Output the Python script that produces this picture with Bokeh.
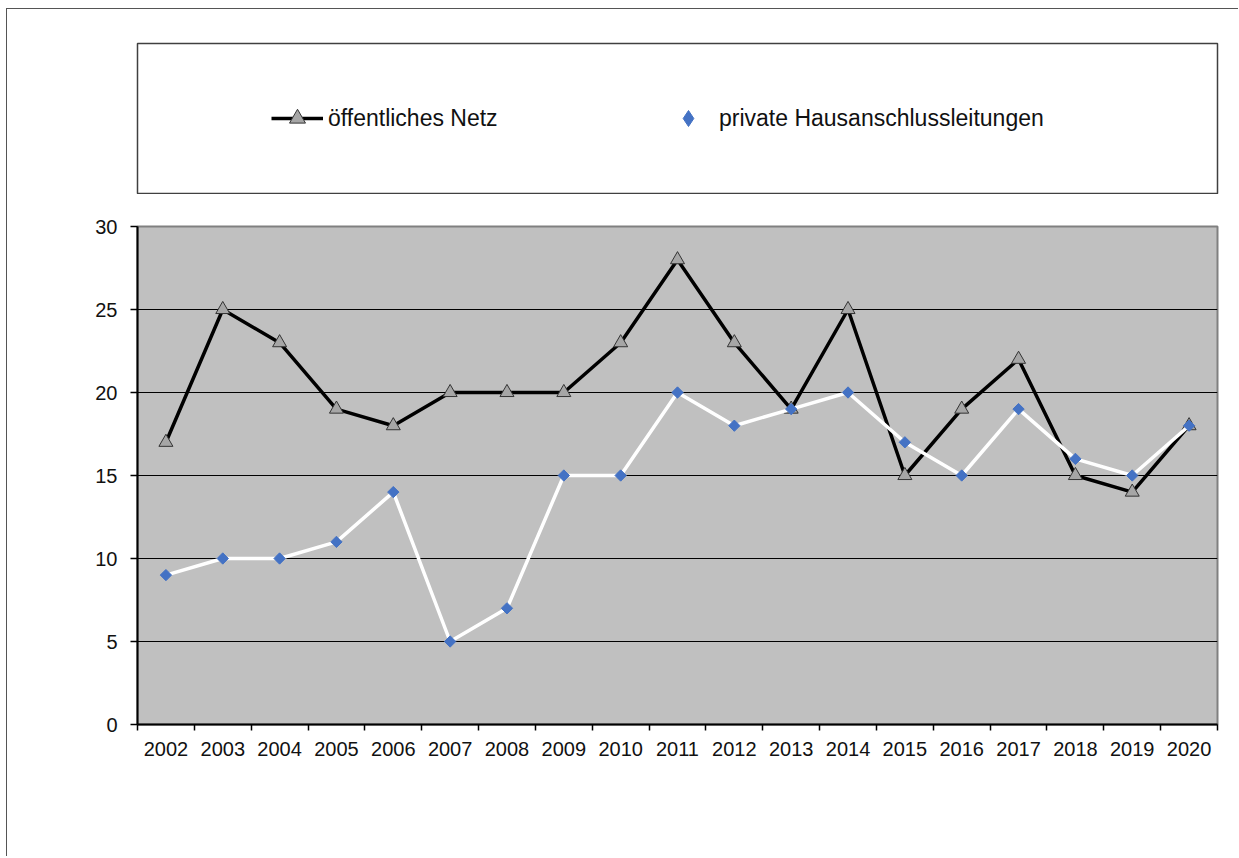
import math
from bokeh.plotting import figure
from bokeh.models import Range1d, FixedTicker, Legend, LegendItem
from bokeh.layouts import column
from bokeh.embed import file_html
from bokeh.resources import INLINE

# ---- data ----
years = [2002, 2003, 2004, 2005, 2006, 2007, 2008, 2009, 2010, 2011,
         2012, 2013, 2014, 2015, 2016, 2017, 2018, 2019, 2020]
oeffentliches_netz = [17, 25, 23, 19, 18, 20, 20, 20, 23, 28,
                      23, 19, 25, 15, 19, 22, 15, 14, 18]
private_hausanschluss = [9, 10, 10, 11, 14, 5, 7, 15, 15, 20,
                         18, 19, 20, 17, 15, 19, 16, 15, 18]
y_ticks = [0, 5, 10, 15, 20, 25, 30]
grid_ticks = [5, 10, 15, 20, 25]
series_names = ["öffentliches Netz", "private Hausanschlussleitungen"]

FONT = "Liberation Sans"

x_lo = years[0] - 0.5
x_hi = years[-1] + 0.5

# ---- legend box (its own small figure; the frame outline is the box) ----
lf = figure(width=1231, height=185,
            x_range=Range1d(x_lo, x_hi), y_range=Range1d(y_ticks[0], y_ticks[-1]),
            output_backend="svg", toolbar_location=None, tools="",
            x_axis_location=None, y_axis_location=None,
            min_border_left=127, min_border_right=20,
            min_border_top=34, min_border_bottom=1,
            outline_line_color="#404040", outline_line_width=1.5,
            background_fill_color="white", border_fill_color="white")
lf.grid.visible = False
r1l = lf.line(years, oeffentliches_netz, line_color="black", line_width=3.5, visible=False)
r1m = lf.scatter(years, oeffentliches_netz, marker="triangle",
                 fill_color="#a6a6a6", line_color="#333333", line_width=1, visible=False)
r2l = lf.line(years, private_hausanschluss, line_color="white", line_width=3.5, visible=False)
r2m = lf.scatter(years, private_hausanschluss, marker="diamond",
                 fill_color="#4472c4", line_color="#4472c4", line_width=1, visible=False)

legend = Legend(items=[LegendItem(label=series_names[0], renderers=[r1l, r1m]),
                       LegendItem(label=series_names[1], renderers=[r2l, r2m])],
                orientation="horizontal", location=(134, 55),
                glyph_width=52, glyph_height=40, label_standoff=5,
                label_width=334, spacing=0, padding=0, margin=0,
                border_line_color=None, background_fill_alpha=0,
                inactive_fill_alpha=0, click_policy="none",
                label_text_font=FONT, label_text_font_size="23px",
                label_text_color="#111111")
lf.add_layout(legend)

# ---- main chart ----
p = figure(width=1231, height=662,
           x_range=Range1d(x_lo, x_hi), y_range=Range1d(y_ticks[0], y_ticks[-1]),
           output_backend="svg", toolbar_location=None, tools="",
           min_border_left=130, min_border_right=21,
           min_border_top=32, min_border_bottom=132,
           background_fill_color="#c0c0c0", border_fill_color="white",
           outline_line_color="#808080", outline_line_width=2)

p.xgrid.visible = False
p.ygrid.ticker = FixedTicker(ticks=grid_ticks)
p.ygrid.grid_line_color = "black"
p.ygrid.grid_line_width = 1

boundaries = [y - 0.5 for y in years] + [years[-1] + 0.5]
xa = p.xaxis[0]
xa.ticker = FixedTicker(ticks=years, minor_ticks=boundaries)
xa.major_tick_line_color = None
xa.minor_tick_in = 0
xa.minor_tick_out = 6
xa.minor_tick_line_color = "black"
xa.minor_tick_line_width = 1.5
xa.axis_line_color = "black"
xa.axis_line_width = 2
xa.major_label_text_font = FONT
xa.major_label_text_font_size = "20px"
xa.major_label_text_color = "#111111"
xa.major_label_standoff = 11

ya = p.yaxis[0]
ya.ticker = FixedTicker(ticks=y_ticks)
ya.major_tick_in = 0
ya.major_tick_out = 7
ya.major_tick_line_color = "black"
ya.major_tick_line_width = 1.5
ya.minor_tick_line_color = None
ya.axis_line_color = "black"
ya.axis_line_width = 2
ya.major_label_text_font = FONT
ya.major_label_text_font_size = "20px"
ya.major_label_text_color = "#111111"
ya.major_label_standoff = 13

p.line(years, oeffentliches_netz, line_color="black", line_width=3.5)
p.scatter(years, oeffentliches_netz, marker="triangle", size=14,
          fill_color="#a6a6a6", line_color="#333333", line_width=1)
p.line(years, private_hausanschluss, line_color="white", line_width=3.5)
p.scatter(years, private_hausanschluss, marker="square", angle=math.pi / 4, size=8,
          fill_color="#4472c4", line_color="#4472c4", line_width=1)

layout = column(lf, p, styles={"border-top": "1px solid #555555",
                               "border-left": "1px solid #555555",
                               "margin-left": "6px", "margin-top": "8px"})

open("out.html", "w").write(file_html(layout, INLINE))
